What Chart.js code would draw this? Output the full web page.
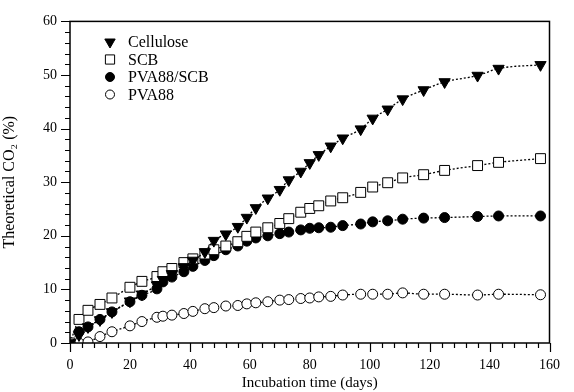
<!DOCTYPE html>
<html>
<head>
<meta charset="utf-8">
<script src="https://cdn.jsdelivr.net/npm/chart.js@4.4.1/dist/chart.umd.min.js"></script>
<style>
  html, body { margin: 0; padding: 0; background: #fff; }
  #wrap { width: 574px; height: 392px; }
</style>
</head>
<body>
<div id="wrap"><canvas id="chart" width="574" height="392"></canvas></div>
<script>
// sampling days (shared by all series)
const days = [0, 3, 6, 10, 14, 20, 24, 29, 31, 34, 38, 41, 45, 48, 52, 56, 59, 62, 66, 70,
  73, 77, 80, 83, 87, 91, 97, 101, 106, 111, 118, 125, 136, 143, 157];

// theoretical CO2 (%)
const cellulose = [0, 1.5, 3.0, 4.3, 5.8, 7.8, 9.1, 10.8, 11.8, 12.9, 14.2, 15.4, 17.0, 19.1, 20.3, 21.7, 23.4, 25.2, 27.0, 28.6,
  30.4, 32.0, 33.6, 35.1, 36.7, 38.2, 39.9, 41.9, 43.6, 45.5, 47.2, 48.7, 49.9, 51.2, 51.9];
const scb = [0, 4.4, 6.1, 7.2, 8.4, 10.4, 11.5, 12.4, 13.3, 13.9, 15.0, 15.7, 16.6, 17.4, 18.1, 18.9, 19.9, 20.7, 21.5, 22.3,
  23.2, 24.4, 25.1, 25.6, 26.5, 27.1, 28.1, 29.1, 29.9, 30.8, 31.4, 32.2, 33.1, 33.7, 34.4];
const pvaScb = [0, 2.1, 3.0, 4.4, 5.8, 7.7, 8.9, 10.1, 11.4, 12.3, 13.3, 14.3, 15.4, 16.3, 17.4, 18.1, 19.0, 19.6, 20.0, 20.4,
  20.7, 21.1, 21.4, 21.5, 21.6, 21.9, 22.2, 22.6, 22.8, 23.1, 23.3, 23.4, 23.6, 23.7, 23.7];
const pva88 = [0, 0, 0.2, 1.2, 2.1, 3.2, 4.0, 4.8, 5.0, 5.2, 5.5, 5.9, 6.4, 6.6, 6.9, 7.0, 7.3, 7.5, 7.7, 8.0,
  8.1, 8.3, 8.4, 8.6, 8.7, 8.95, 9.1, 9.1, 9.1, 9.35, 9.1, 9.1, 8.95, 9.1, 9.0];

const seriesNames = ['Cellulose', 'SCB', 'PVA88/SCB', 'PVA88'];

const FONT = '"Liberation Serif", "Times New Roman", serif';

function toPoints(vals) {
  return days.map((d, i) => ({ x: d, y: vals[i] }));
}

function makeSet(label, vals, style, fill, radius, rotation) {
  return {
    label: label,
    data: toPoints(vals),
    borderColor: '#000',
    borderWidth: 1.3,
    borderDash: [2, 2],
    cubicInterpolationMode: 'monotone',
    pointStyle: style,
    pointRadius: radius,
    pointRotation: rotation,
    pointBackgroundColor: fill,
    pointBorderColor: '#000',
    pointBorderWidth: 1,
    fill: false
  };
}

const datasets = [
  makeSet(seriesNames[0], cellulose, 'triangle', '#000', 6.5, 180),
  makeSet(seriesNames[1], scb, 'rect', '#fff', 7, 0),
  makeSet(seriesNames[2], pvaScb, 'circle', '#000', 5, 0),
  makeSet(seriesNames[3], pva88, 'circle', '#fff', 5, 0)
];

// frame, tick marks and legend inside the plot
const decorations = {
  id: 'decorations',
  afterDraw(chart) {
    const ctx = chart.ctx;
    const a = chart.chartArea;
    const xs = chart.scales.x, ys = chart.scales.y;
    ctx.save();
    ctx.strokeStyle = '#000';
    ctx.lineWidth = 1.5;
    ctx.strokeRect(a.left, a.top, a.right - a.left, a.bottom - a.top);

    ctx.lineWidth = 1.2;
    ctx.beginPath();
    for (let v = xs.min; v <= xs.max; v += 4) {
      const px = Math.round(xs.getPixelForValue(v)) + 0.5;
      const len = v % 20 === 0 ? 9 : 5;
      ctx.moveTo(px, a.bottom);
      ctx.lineTo(px, a.bottom + len);
    }
    for (let v = ys.min; v <= ys.max; v += 2) {
      const py = Math.round(ys.getPixelForValue(v)) + 0.5;
      const len = v % 10 === 0 ? 9 : 5;
      ctx.moveTo(a.left, py);
      ctx.lineTo(a.left - len, py);
    }
    ctx.stroke();

    // legend
    ctx.font = '16px ' + FONT;
    ctx.textBaseline = 'middle';
    ctx.fillStyle = '#000';
    chart.data.datasets.forEach((ds, i) => {
      const y = 42 + i * 17.5;
      const x = 110;
      ctx.fillStyle = ds.pointBackgroundColor;
      ctx.strokeStyle = '#000';
      ctx.lineWidth = 1;
      Chart.helpers.drawPoint(ctx, {
        pointStyle: ds.pointStyle,
        radius: ds.pointStyle === 'rect' ? 6.5 : (ds.pointStyle === 'triangle' ? 6 : 4.5),
        rotation: ds.pointRotation,
        borderWidth: 1
      }, x, y);
      ctx.fillStyle = '#000';
      ctx.fillText(ds.label, 128, y + 1);
    });
    ctx.restore();
  }
};

new Chart(document.getElementById('chart'), {
  type: 'line',
  data: { datasets: datasets },
  options: {
    responsive: false,
    animation: false,
    layout: { padding: { top: 18, right: 11, bottom: 0, left: 0 } },
    plugins: { legend: { display: false }, tooltip: { enabled: false } },
    scales: {
      x: {
        type: 'linear',
        min: 0, max: 160,
        grid: { display: false, drawTicks: false },
        border: { display: false },
        ticks: { stepSize: 20, color: '#000', padding: 14, font: { family: FONT, size: 14 } },
        title: { display: true, text: 'Incubation time (days)', color: '#000', font: { family: FONT, size: 15 }, padding: { top: 3, bottom: 0 } },
        afterFit(scale) { scale.height = 49; }
      },
      y: {
        min: 0, max: 60,
        grid: { display: false, drawTicks: false },
        border: { display: false },
        ticks: { stepSize: 10, color: '#000', padding: 13, font: { family: FONT, size: 14 } },
        title: { display: true, text: 'Theoretical CO\u2082 (%)', color: '#000', font: { family: FONT, size: 16 }, padding: { top: 0, bottom: 0 } },
        afterFit(scale) { scale.width = 70; }
      }
    }
  },
  plugins: [decorations]
});
</script>
</body>
</html>
